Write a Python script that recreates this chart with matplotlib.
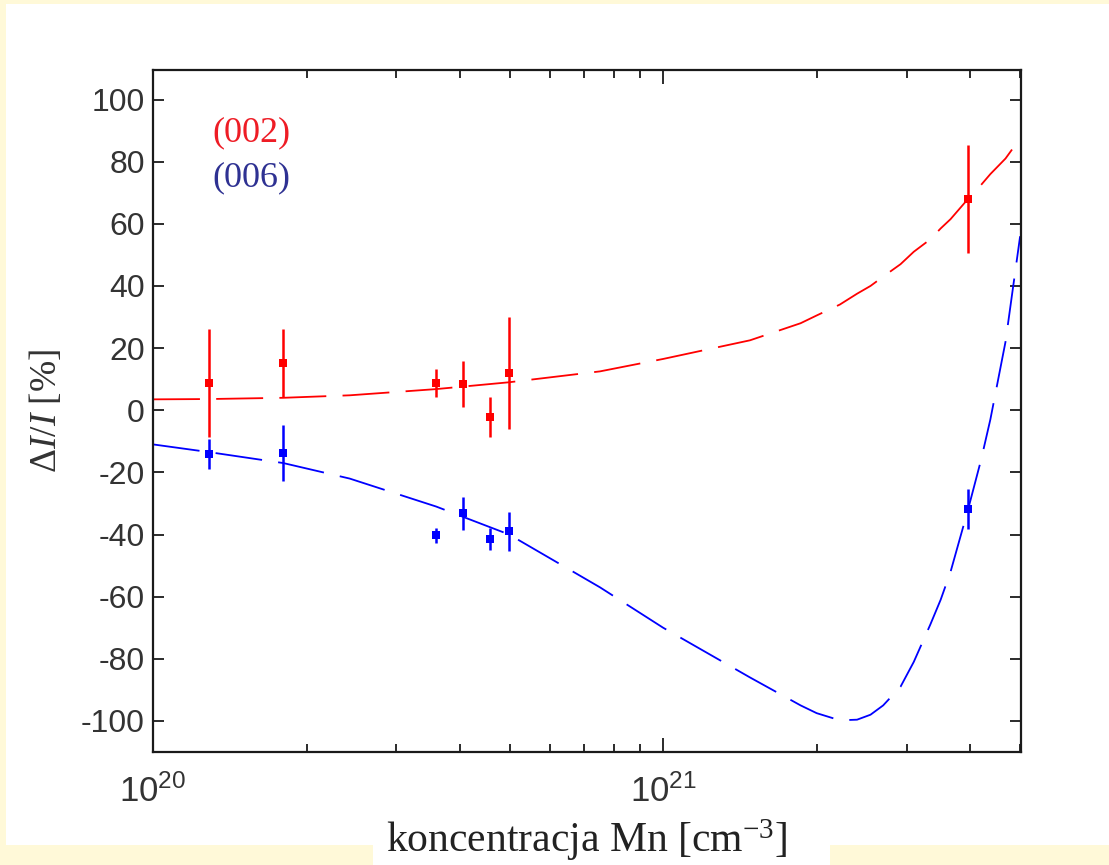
import numpy as np
import matplotlib.pyplot as plt
from matplotlib.patches import Rectangle
from matplotlib.ticker import LogLocator, NullFormatter, FixedLocator

# measured points (concentration Mn in cm^-3)
conc = [1.29e20, 1.80e20, 3.59e20, 4.05e20, 4.58e20, 4.99e20, 3.96e21]
r002 = [8.7, 15.1, 8.7, 8.4, -2.2, 11.9, 68.0]
r002_err = [17.4, 11.0, 4.5, 7.3, 6.3, 18.0, 17.3]
r006 = [-14.1, -13.8, -40.2, -33.1, -41.5, -38.9, -31.8]
r006_err = [4.7, 9.0, 2.4, 5.3, 3.6, 6.3, 6.5]

# fitted curves
fit_conc = [1.0e20, 1.29e20, 1.80e20, 2.43e20, 3.59e20, 4.99e20, 7.52e20, 1.0e21,
            1.48e21, 1.86e21, 2.0e21, 2.22e21, 2.4e21, 2.55e21, 2.7e21, 2.92e21,
            3.1e21, 3.34e21, 3.5e21, 3.66e21, 3.96e21, 4.2e21, 4.38e21, 4.69e21,
            5.01e21]
fit002 = [3.5, 3.6, 4.0, 4.8, 6.8, 9.0, 12.5, 16.5, 22.5, 28.0, 30.5, 34.0, 37.5,
          40.0, 43.0, 47.0, 51.0, 55.0, 58.5, 61.5, 68.0, 72.5, 76.0, 81.0, 87.5]
fit006 = [-11.0, -13.5, -17.0, -22.0, -31.0, -40.0, -57.0, -70.0, -86.0, -95.0,
          -97.5, -99.8, -99.6, -98.0, -95.0, -89.0, -81.0, -69.0, -61.0, -52.0,
          -32.0, -16.0, -3.0, 22.0, 56.0]

yticks = [-100, -80, -60, -40, -20, 0, 20, 40, 60, 80, 100]

plt.rcParams['mathtext.fontset'] = 'custom'
plt.rcParams['mathtext.rm'] = 'Liberation Serif'
plt.rcParams['mathtext.it'] = 'Liberation Serif:italic'
plt.rcParams['mathtext.sf'] = 'Liberation Sans'

W, H = 1109, 865
fig = plt.figure(figsize=(W / 100, H / 100), dpi=100)
fig.patch.set_facecolor('#fff9d8')
# white slide area
fig.patches.append(Rectangle((6 / W, (H - 845) / H), (W - 6) / W, (845 - 4) / H,
                             transform=fig.transFigure, facecolor='white',
                             edgecolor='none', zorder=-5))
fig.patches.append(Rectangle((373 / W, 0), (830 - 373) / W, (H - 840) / H,
                             transform=fig.transFigure, facecolor='white',
                             edgecolor='none', zorder=-5))

ax = fig.add_axes([153 / W, 1 - 752 / H, (1021 - 153) / W, (752 - 70) / H])
ax.set_zorder(2)
ax.set_facecolor('white')

dash = (26, 9)
ax.plot(fit_conc, fit002, color='red', lw=1.3, dashes=dash)
ax.plot(fit_conc, fit006, color='blue', lw=1.3, dashes=dash)

ax.errorbar(conc, r002, yerr=r002_err, fmt='s', color='red', ms=6, elinewidth=1.8,
            capsize=0, mew=0)
ax.errorbar(conc, r006, yerr=r006_err, fmt='s', color='blue', ms=6, elinewidth=1.8,
            capsize=0, mew=0)

ax.set_xscale('log')
ax.set_xlim(1e20, 5.03e21)
ax.set_ylim(-110, 109.5)
ax.xaxis.set_major_locator(FixedLocator([1e20, 1e21]))
ax.xaxis.set_minor_locator(LogLocator(base=10, subs=np.arange(2, 10)))
ax.xaxis.set_minor_formatter(NullFormatter())
ax.set_xticks([1e20, 1e21])
ax.set_xticklabels([r'$\mathsf{10^{20}}$', r'$\mathsf{10^{21}}$'])
ax.set_yticks(yticks)
ax.set_yticklabels([str(v) for v in yticks])

for s in ax.spines.values():
    s.set_linewidth(1.6)
    s.set_color('#1a1a1a')
ax.tick_params(which='both', direction='in', top=True, right=True, width=1.3,
               color='#1a1a1a', labelcolor='#333333')
ax.tick_params(which='major', length=8)
ax.tick_params(which='minor', length=6)
ax.tick_params(axis='x', which='major', length=10, pad=16)
ax.tick_params(axis='y', pad=6)
for lab in ax.get_yticklabels():
    lab.set_fontfamily('Liberation Sans')
    lab.set_fontsize(23)
for lab in ax.get_xticklabels():
    lab.set_fontsize(25)

ax.text(0.068, 0.908, '(002)', transform=ax.transAxes, color='#ee1c25',
        fontfamily='Liberation Serif', fontsize=26, va='center')
ax.text(0.068, 0.842, '(006)', transform=ax.transAxes, color='#2e3192',
        fontfamily='Liberation Serif', fontsize=26, va='center')

ax.set_ylabel(r'$\Delta I/I$ [%]', fontfamily='Liberation Serif', fontsize=27,
              color='#333333', labelpad=12)
ax.set_xlabel('koncentracja Mn [cm$^{\u22123}$]', fontfamily='Liberation Serif',
              fontsize=30, color='#222222', labelpad=6)

fig.savefig('out.png', dpi=100, facecolor=fig.get_facecolor())
